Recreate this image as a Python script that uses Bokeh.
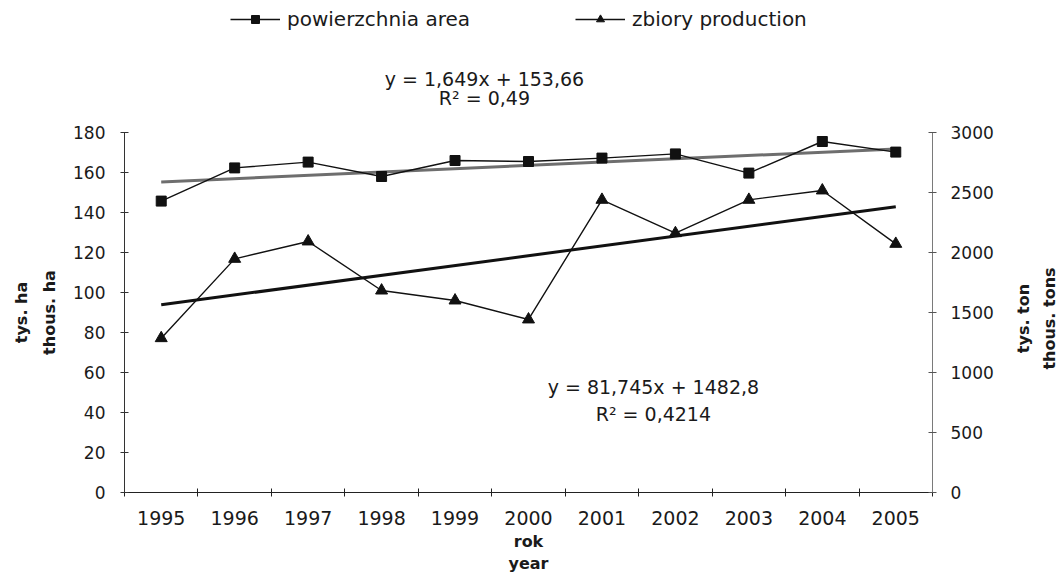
import math
from bokeh.plotting import figure
from bokeh.layouts import column, row
from bokeh.models import Range1d, LinearAxis, FixedTicker, Label, Legend, LegendItem
from bokeh.embed import file_html
from bokeh.resources import INLINE

# ---- data ----
years = [1995, 1996, 1997, 1998, 1999, 2000, 2001, 2002, 2003, 2004, 2005]
area = [145.7, 162.3, 165.2, 158.0, 166.0, 165.5, 167.2, 169.3, 159.7, 175.5, 170.2]
production = [1286, 1947, 2092, 1683, 1600, 1442, 2439, 2161, 2439, 2517, 2072]
left_ticks = [0, 20, 40, 60, 80, 100, 120, 140, 160, 180]
right_ticks = [0, 500, 1000, 1500, 2000, 2500, 3000]
area_fit = (1.649, 153.66)      # slope, intercept (x = 1..11)
prod_fit = (81.745, 1482.8)
area_eq_text = ["y = 1,649x + 153,66", "R\u00b2 = 0,49"]
prod_eq_text = ["y = 81,745x + 1482,8", "R\u00b2 = 0,4214"]
legend_labels = ["powierzchnia area", "zbiory production"]
left_label = "tys. ha\nthous. ha"
right_label_lines = ["tys. ton", "thous. tons"]
x_label = "rok\nyear"

FONT = "DejaVu Sans"
TXT = "#1a1a1a"
LINE = "#111111"

x_range = Range1d(years[0] - 0.5, years[-1] + 0.5)

# ---------------- main chart ----------------
p = figure(frame_width=808, frame_height=360,
           x_range=x_range, y_range=Range1d(0, 180),
           output_backend="svg", toolbar_location=None,
           min_border_left=124, min_border_right=70,
           min_border_top=12, min_border_bottom=85,
           outline_line_color=None)
p.extra_y_ranges = {"prod": Range1d(0, 3000)}
p.xgrid.visible = False
p.ygrid.visible = False

# x axis: labels at category centres, tick marks between categories
xa = p.xaxis[0]
xa.ticker = FixedTicker(ticks=years, minor_ticks=[y - 0.5 for y in years] + [years[-1] + 0.5])
xa.major_label_overrides = {y: str(y) for y in years}
xa.major_tick_line_color = None
xa.minor_tick_line_color = "#222222"
xa.minor_tick_in = 4
xa.minor_tick_out = 4
xa.axis_line_color = "#222222"
xa.major_label_text_font = FONT
xa.major_label_text_font_size = "19px"
xa.major_label_text_color = TXT
xa.major_label_standoff = 12
xa.axis_label = x_label
xa.axis_label_text_font = FONT
xa.axis_label_text_font_style = "bold"
xa.axis_label_text_font_size = "16px"
xa.axis_label_text_color = TXT
xa.axis_label_standoff = 4

ya = p.yaxis[0]
ya.ticker = FixedTicker(ticks=left_ticks)
ya.major_tick_in = 4
ya.major_tick_out = 4
ya.minor_tick_line_color = None
ya.axis_line_color = "#333333"
ya.major_tick_line_color = "#333333"
ya.major_label_text_font = FONT
ya.major_label_text_font_size = "17px"
ya.major_label_text_color = TXT
ya.major_label_standoff = 15
ya.axis_label = left_label
ya.axis_label_text_font = FONT
ya.axis_label_text_font_style = "bold"
ya.axis_label_text_font_size = "16px"
ya.axis_label_text_line_height = 1.5
ya.axis_label_text_color = TXT
ya.axis_label_standoff = 11

ra = LinearAxis(y_range_name="prod", ticker=FixedTicker(ticks=right_ticks))
ra.major_tick_in = 4
ra.major_tick_out = 4
ra.minor_tick_line_color = None
ra.axis_line_color = "#7a7a7a"
ra.major_tick_line_color = "#555555"
ra.major_label_text_font = FONT
ra.major_label_text_font_size = "17px"
ra.major_label_text_color = TXT
ra.major_label_standoff = 14
p.add_layout(ra, "right")

# trend lines
fit_x = [years[0], years[-1]]
fit_i = [1, len(years)]
p.line(fit_x, [area_fit[0] * i + area_fit[1] for i in fit_i], line_color="#6e6e6e", line_width=3)
p.line(fit_x, [prod_fit[0] * i + prod_fit[1] for i in fit_i], line_color=LINE, line_width=3,
       y_range_name="prod")

# data series
p.line(years, area, line_color=LINE, line_width=1.4)
p.scatter(years, area, marker="square", size=10, color=LINE)
p.line(years, production, line_color=LINE, line_width=1.4, y_range_name="prod")
p.scatter(years, production, marker="triangle", size=12, color=LINE, y_range_name="prod")

for txt, yv in zip(prod_eq_text, [53, 39.5]):
    p.add_layout(Label(x=2001.7, y=yv, text=txt, text_align="center", text_baseline="middle",
                       text_font=FONT, text_font_size="19px", text_color=TXT))

# ---------------- right strip: right axis title, reading bottom-to-top ----------------
strip = figure(frame_width=61, frame_height=457,
               x_range=Range1d(0, 61), y_range=Range1d(0, 457),
               x_axis_type=None, y_axis_type=None,
               output_backend="svg", toolbar_location=None,
               min_border_left=0, min_border_right=0, min_border_top=0, min_border_bottom=0,
               outline_line_color=None)
strip.xgrid.visible = False
strip.ygrid.visible = False
for txt, xv in zip(right_label_lines, [21, 47]):
    strip.add_layout(Label(x=xv, y=271, x_units="screen", y_units="screen", text=txt,
                           angle=math.pi / 2, text_align="center", text_baseline="middle",
                           text_font=FONT, text_font_size="16px", text_font_style="bold",
                           text_color=TXT))

# ---------------- header strip: legend + area regression equation ----------------
top = figure(frame_width=808, frame_height=120,
             x_range=x_range, y_range=Range1d(0, 120),
             x_axis_type=None, y_axis_type=None,
             output_backend="svg", toolbar_location=None,
             min_border_left=124, min_border_right=131,
             min_border_top=0, min_border_bottom=0,
             outline_line_color=None)
top.xgrid.visible = False
top.ygrid.visible = False
# same series styles (the data lie outside this strip's range, only their legend swatches show)
l1 = top.line(years, area, line_color=LINE, line_width=1.4)
m1 = top.scatter(years, area, marker="square", size=10, color=LINE)
l2 = top.line(years, production, line_color=LINE, line_width=1.4)
m2 = top.scatter(years, production, marker="triangle", size=12, color=LINE)

legend = Legend(items=[LegendItem(label=legend_labels[0], renderers=[l1, m1]),
                       LegendItem(label=legend_labels[1], renderers=[l2, m2])],
                location=(106, 89), orientation="horizontal",
                glyph_width=50, glyph_height=20, label_standoff=7, spacing=105,
                padding=0, margin=0, border_line_color=None, background_fill_alpha=0,
                label_text_font=FONT, label_text_font_size="20px", label_text_color=TXT)
top.add_layout(legend)

for txt, yv in zip(area_eq_text, [42, 23]):
    top.add_layout(Label(x=1999.4, y=yv, text=txt, text_align="center", text_baseline="middle",
                         text_font=FONT, text_font_size="19px", text_color=TXT))

layout = column(top, row(p, strip, spacing=0), spacing=0)
open("out.html", "w").write(file_html(layout, INLINE))
